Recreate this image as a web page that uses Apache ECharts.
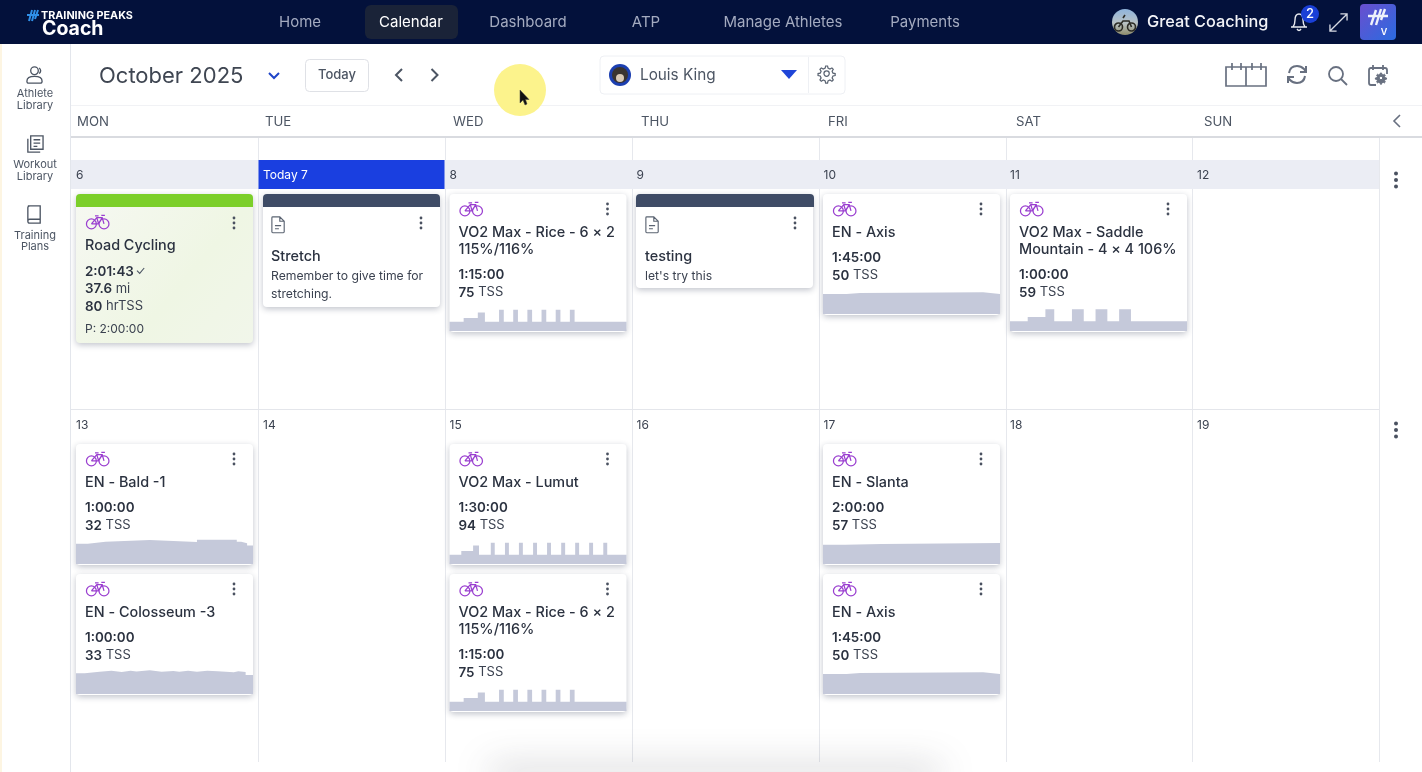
<!DOCTYPE html>
<html>
<head>
<meta charset="utf-8">
<title>Calendar</title>
<style>html,body{margin:0;padding:0;background:#fff}#main{width:1422px;height:772px}</style>
<script src="https://cdn.jsdelivr.net/npm/echarts@6/dist/echarts.min.js"></script>
</head>
<body>
<div id="main"></div>
<script>
// workout profiles: [minute, level], each level held until the next minute
const profileRice = [[0,50],[6,70],[12,100],[15,50],[21,115],[23,50],[27,115],[29,50],[33,115],[35,50],[39,115],[41,50],[45,115],[47,50],[51,115],[53,50],[75,50]];
const profileLumut = [[0,50],[6,70],[12,100],[15,50],[21,115],[23,50],[28.2,115],[30.2,50],[35.3,115],[37.3,50],[42.5,115],[44.5,50],[49.6,115],[51.6,50],[56.8,115],[58.8,50],[63.9,115],[65.9,50],[71,115],[73,50],[78.2,115],[80.2,50],[90,50]];
const profileSaddle = [[0,52],[6,76],[12,117],[15,52],[21,117],[25,52],[29,117],[33,52],[37,117],[41,52],[60,52]];
const profileAxis = [[0,108],[14,114],[22,117],[95,108],[105,108]];
const profileSlanta = [[0,104],[15,108],[40,114],[120,114]];
const profileBald = [[0,110],[4,120],[10,129],[25,119],[41,131],[54.5,120],[56,112],[58,100],[60,90]];
const profileColosseum = [[0,112],[3,120],[8,125],[12,119],[15.5,125],[18.5,122],[20.5,128],[25,120],[29,124],[33,120],[35,126],[38,120],[41,126],[44.5,123],[48,117],[53.5,123],[55,119],[57.5,103],[60,95]];

const workoutNames = [
  ['VO2 Max - Rice - 6 × 2', '115%/116%'], ['EN - Axis'], ['VO2 Max - Saddle', 'Mountain - 4 × 4 106%'],
  ['EN - Bald -1'], ['EN - Colosseum -3'], ['VO2 Max - Lumut'],
  ['VO2 Max - Rice - 6 × 2', '115%/116%'], ['EN - Slanta'], ['EN - Axis']
];
const workoutDurations = ['1:15:00', '1:45:00', '1:00:00', '1:00:00', '1:00:00', '1:30:00', '1:15:00', '2:00:00', '1:45:00'];
const workoutTss = [75, 50, 59, 32, 33, 94, 75, 57, 50];
const workoutProfiles = [profileRice, profileAxis, profileSaddle, profileBald, profileColosseum, profileLumut, profileRice, profileSlanta, profileAxis];

const navItems = ['Home', 'Calendar', 'Dashboard', 'ATP', 'Manage Athletes', 'Payments'];
const weekDays = ['MON', 'TUE', 'WED', 'THU', 'FRI', 'SAT', 'SUN'];
const weekOneDates = ['6', 'Today 7', '8', '9', '10', '11', '12'];
const weekTwoDates = ['13', '14', '15', '16', '17', '18', '19'];

// layout, kept apart from the values
const navX = [300, 411, 528, 646, 783, 925];
const dayX = [77, 265, 453, 641, 828, 1016, 1204];
const dateX = [76, 263, 449.5, 636.5, 823.5, 1010, 1197];
const gridX = [258, 445, 632, 819, 1006, 1192, 1379];
const slotX = [449.5, 823, 1010, 76, 76, 449.5, 449.5, 823, 823];
const slotY = [194, 194, 194, 444, 574, 444, 574, 444, 574];

const FONT = 'Inter';
const INK = '#2b3240';
const MUTED = '#4c5563';
const PURPLE = '#9a3fd0';
const PROFILE = '#c5c9da';
const BIKE = 'M6 5.5a5.5 5.5 0 1 0 0.01 0M20 5.5a5.5 5.5 0 1 0 0.01 0M6 11L12 4H18L20 11M12 4L14 11H6M14 11L18 4M10 2H14M17 1.5H21';
const DOC = 'M2 1H10L15 6V18Q15 19 14 19H2Q1 19 1 18V2Q1 1 2 1M10 1V6H15M4.5 11H11.5M4.5 14.5H9';
const GEAR = 'M8 5.2a2.8 2.8 0 1 0 0.01 0M7 0H9L9.5 2.3L11.5 3.2L13.6 2L15 3.4L13.8 5.5L14.7 7.5L17 8V10L14.7 10.5L13.8 12.5L15 14.6L13.6 16L11.5 14.8L9.5 15.7L9 18H7L6.5 15.7L4.5 14.8L2.4 16L1 14.6L2.2 12.5L1.3 10.5L-1 10V8L1.3 7.5L2.2 5.5L1 3.4L2.4 2L4.5 3.2L6.5 2.3Z';

// the graphic component has no plain 'path' type, so each icon gets a registered shape
const iconShapes = {};
function iconType(d) {
  if (!iconShapes[d]) {
    iconShapes[d] = 'icon' + Object.keys(iconShapes).length;
    echarts.graphic.registerShape(iconShapes[d], echarts.graphic.extendPath(d, {}));
  }
  return iconShapes[d];
}

const items = [];
function txt(text, x, y, size, fill, weight, align) {
  items.push({ type: 'text', z: 3, x, y: y + 0.5, style: { text, fill: fill || INK, font: (weight || 400) + ' ' + size + 'px ' + FONT, textAlign: align || 'left', textVerticalAlign: 'middle' } });
}
function richTxt(text, x, y, rich) {
  items.push({ type: 'text', z: 3, x, y: y + 0.5, style: { text, rich, fill: INK, font: '13px ' + FONT, textVerticalAlign: 'middle' } });
}
function box(x, y, width, height, fill, extra, r) {
  items.push({ type: 'rect', z: 1, shape: { x, y, width, height, r: r || 0 }, style: Object.assign({ fill }, extra || {}) });
}
function icon(d, x, y, scale, stroke, width, fill) {
  items.push({ type: iconType(d), z: 3, x, y, scaleX: scale, scaleY: scale, style: { fill: fill || 'none', stroke, lineWidth: width || 1.4 } });
}
function dot(cx, cy, r, fill) {
  items.push({ type: 'circle', z: 3, shape: { cx, cy, r }, style: { fill } });
}
function kebab(x, y, r) {
  [-5, 0, 5].forEach(d => dot(x, y + d * (r > 1.6 ? 1.3 : 1), r, '#4a5160'));
}
function card(x, y, h, body) {
  box(x, y, 177, h, body || '#fff', { shadowBlur: 6, shadowOffsetY: 2, shadowColor: 'rgba(30,40,70,0.28)' }, 4);
}

// page frame
box(0, 44, 2, 728, '#fdf5e2');
box(70, 44, 1, 728, '#e3e6ec');
box(71, 105, 1351, 1, '#f1f2f5');
box(71, 136, 1351, 2, '#d9dbe0');
gridX.forEach(x => box(x, 138, 1, 624, '#e6e8ed'));
box(71, 160, 1308, 29, '#ebedf4');
box(258.5, 160, 186, 29, '#1a3fe0');
box(71, 409, 1308, 1, '#e4e6eb');
box(490, 775, 450, 10, '#fff', { shadowBlur: 36, shadowColor: 'rgba(60,60,70,0.4)', shadowOffsetY: -6 });

// header
box(0, 0, 1422, 44, '#03113b');
box(365, 5, 93, 34, '#1a2338', null, 6);
navItems.forEach((n, i) => txt(n, navX[i], 22, 15, i === 1 ? '#fff' : '#a4abc0', 400, 'center'));
icon('M2 12L5 1M5 12L8 1M8 10L11 1M0 6H12', 27, 9, 1, '#2f8fe8', 2);
txt('TRAINING PEAKS', 41, 15, 10.8, '#fff', 700);
txt('Coach', 42, 28.5, 19.5, '#fff', 700);
items.push({ type: 'circle', z: 3, shape: { cx: 1125, cy: 22, r: 13 }, style: { fill: new echarts.graphic.LinearGradient(0, 0, 0, 1, [{ offset: 0, color: '#8fb4dc' }, { offset: 0.55, color: '#b9c2c4' }, { offset: 1, color: '#8d8c6c' }]) } });
icon('M-6.5 2a4 4 0 1 0 0.01 0M6.5 2a4 4 0 1 0 0.01 0M-6.5 6L-2 0L4 0L6.5 6M-2 -3L0 -6', 1125, 21, 1, '#2b2b25', 1.6);
txt('Great Coaching', 1147, 22, 16.3, '#f2f3f7', 500);
icon('M1 15H17M3 15Q5 12 5 8Q5 2 9 2Q13 2 13 8Q13 12 15 15M7 17Q9 20 11 17', 1290, 12, 1, '#e8eaf0', 1.4);
dot(1310, 14, 9, '#1a3fd6');
txt('2', 1310, 13.5, 13, '#fff', 500, 'center');
icon('M1 19L19 1M12 1H19V8M1 12V19H8', 1329, 13, 0.95, '#d7dae3', 1.4);
items.push({ type: 'rect', z: 2, shape: { x: 1360, y: 4, width: 36, height: 36, r: 4 }, style: { fill: new echarts.graphic.LinearGradient(0, 0, 1, 1, [{ offset: 0, color: '#6a4fcf' }, { offset: 1, color: '#2a6be0' }]) } });
icon('M3 17L8 2M8 17L13 1M13 12L17 1M0 8H20', 1368, 8, 1, '#eef1fb', 2.4);
txt('V', 1384, 32, 9, '#fff', 600, 'center');

// sidebar
icon('M10 1a4 4 0 1 0 0.01 0M2 16Q2 11 10 11Q18 11 18 16Q18 18 16 18H4Q2 18 2 16M15 2Q18 5 15 8', 25, 66, 0.95, '#4c5563');
txt('Athlete', 35, 93, 11, MUTED, 400, 'center');
txt('Library', 35, 105, 11, MUTED, 400, 'center');
icon('M6 1H19V15H6ZM3 4V18H16M9 5H16M9 8.5H16M9 12H13', 25, 135, 0.95, '#4c5563');
txt('Workout', 35, 164, 11, MUTED, 400, 'center');
txt('Library', 35, 176, 11, MUTED, 400, 'center');
icon('M3 1H16V15H5Q3 15 3 17V3Q3 1 5 1M3 17Q3 19 5 19H16V15', 25, 205, 0.95, '#4c5563');
txt('Training', 35, 235, 11, MUTED, 400, 'center');
txt('Plans', 35, 246, 11, MUTED, 400, 'center');

// toolbar
txt('October 2025', 99, 75.5, 22, '#3f4652');
icon('M0 0L5 5L10 0', 269, 73, 1, '#1f45c8', 2);
box(305.5, 59.5, 63, 32, '#fff', { stroke: '#dfe1e6', lineWidth: 1 }, 4);
txt('Today', 337, 75, 13, '#4c5563', 500, 'center');
icon('M7 0L1 6L7 12', 395, 69, 1, '#4c5563', 2);
icon('M1 0L7 6L1 12', 430.5, 69, 1, '#4c5563', 2);
dot(520, 90, 26, '#fcf38c');
items.push({ type: iconType('M0 0L0 13L3 10L5 15L7 14L5.5 9.5L9 9.5Z'), z: 4, x: 520, y: 90, style: { fill: '#111', stroke: '#444', lineWidth: 0.5 } });
box(600, 56, 245, 38, '#fff', { stroke: '#eef0f4', lineWidth: 1 }, 4);
box(808, 57, 1, 36, '#eef0f4');
dot(620, 75, 11, '#1c3fb0');
dot(620, 75, 8, '#3a3430');
dot(620, 78, 4, '#d9c9b5');
txt('Louis King', 640, 75, 15.3, '#4c5563', 400);
items.push({ type: 'polygon', z: 3, shape: { points: [[781, 70], [797, 70], [789, 79]] }, style: { fill: '#1f45d8' } });
icon(GEAR, 819, 66, 0.95, '#5b6472', 1.3);

icon('M1 4H41V23H1ZM21 4V23M7 0V7M16 0V7M27 0V7M36 0V7', 1225, 63, 1, '#687080', 1.7);
icon('M3 9Q4 2 11 2Q15 2 18 5L20 8M20 2V8H14M19 12Q18 19 11 19Q7 19 4 16L2 13M2 19V13H8', 1286, 64, 1, '#687080', 2);
icon('M8 1a7 7 0 1 0 0.01 0M13 13L19 19', 1328, 66, 1, '#687080', 1.8);
icon('M8 20H3Q1 20 1 18V5Q1 3 3 3H17Q19 3 19 5V9M5 0V5M15 0V5', 1368, 65, 1, '#687080', 1.8);
icon(GEAR, 1376, 73, 0.62, '#687080', 1.6, '#687080');

// calendar head
weekDays.forEach((d, i) => txt(d, dayX[i], 121.5, 13.2, MUTED, 400));
icon('M7 0L1 6L7 12', 1393, 115, 1, '#687080', 1.6);
weekOneDates.forEach((d, i) => txt(d, dateX[i], 174.5, 12, i === 1 ? '#fff' : '#3b4250', 400));
weekTwoDates.forEach((d, i) => txt(d, dateX[i], 424.5, 12, '#3b4250', 400));
kebab(1396, 180, 2);
kebab(1396, 430, 2);

// completed ride
card(76, 194, 149, new echarts.graphic.LinearGradient(0, 0, 1, 1, [{ offset: 0, color: '#f6f8f2' }, { offset: 0.6, color: '#eff6e4' }, { offset: 1, color: '#f1f6ea' }]));
box(76, 194, 177, 13, '#7ccf2a', null, [4, 4, 0, 0]);
icon(BIKE, 86, 214, 0.9, PURPLE, 1.4);
kebab(234, 223, 1.4);
txt('Road Cycling', 85, 245.5, 14.4, INK, 450);
txt('2:01:43', 85, 271, 13.4, INK, 600);
icon('M0 3L3 6L8 0', 137, 268, 0.9, '#4c5563', 1.2);
const statRich = { b: { font: '600 13.4px ' + FONT, fill: INK }, r: { font: '400 13px ' + FONT, fill: '#3b4250' } };
richTxt('{b|37.6} {r|mi}', 85, 288.5, statRich);
richTxt('{b|80} {r|hrTSS}', 85, 306, statRich);
txt('P: 2:00:00', 85, 329, 12, '#3b4250');

// notes
card(263, 194, 113);
box(263, 194, 177, 13, '#3f4c66', null, [4, 4, 0, 0]);
icon(DOC, 271, 216, 0.88, '#5b6472', 1.3);
kebab(421, 223, 1.4);
txt('Stretch', 271, 256, 14.4, INK, 450);
txt('Remember to give time for', 271, 276, 12.2, '#3b4250');
txt('stretching.', 271, 294, 12.2, '#3b4250');
card(636, 194, 94);
box(636, 194, 178, 13, '#3f4c66', null, [4, 4, 0, 0]);
icon(DOC, 645, 216, 0.88, '#5b6472', 1.3);
kebab(795, 223, 1.4);
txt('testing', 645, 256, 14.4, INK, 450);
txt("let's try this", 645, 276, 12.2, '#3b4250');

// planned workouts
const grids = [];
const xAxes = [];
const yAxes = [];
const series = [];
workoutNames.forEach((lines, i) => {
  const x = slotX[i];
  const y = slotY[i];
  const h = lines.length > 1 ? 138 : 121;
  card(x, y, h);
  icon(BIKE, x + 10, y + 7, 0.9, PURPLE, 1.4);
  kebab(x + 158, y + 15, 1.4);
  lines.forEach((l, k) => txt(l, x + 9, y + 38 + k * 17, 14.4, INK, 450));
  const timeY = y + 38 + (lines.length - 1) * 17 + 25;
  txt(workoutDurations[i], x + 9, timeY, 13.4, INK, 600);
  richTxt('{b|' + workoutTss[i] + '} {r|TSS}', x + 9, timeY + 18, statRich);

  const profile = workoutProfiles[i];
  grids.push({ left: x, width: 177, top: y + h - 26, height: 25 });
  xAxes.push({ type: 'value', gridIndex: i, min: 0, max: profile[profile.length - 1][0], show: false });
  yAxes.push({ type: 'value', gridIndex: i, min: 0, max: 135, show: false });
  series.push({
    type: 'line', xAxisIndex: i, yAxisIndex: i, data: profile, step: 'end', symbol: 'none', z: 5, silent: true,
    lineStyle: { width: 0 }, areaStyle: { color: PROFILE, opacity: 1 }
  });
});

const chart = echarts.init(document.getElementById('main'));
chart.setOption({
  animation: false,
  backgroundColor: '#fff',
  graphic: { elements: items },
  grid: grids,
  xAxis: xAxes,
  yAxis: yAxes,
  series: series
});
</script>
</body>
</html>
